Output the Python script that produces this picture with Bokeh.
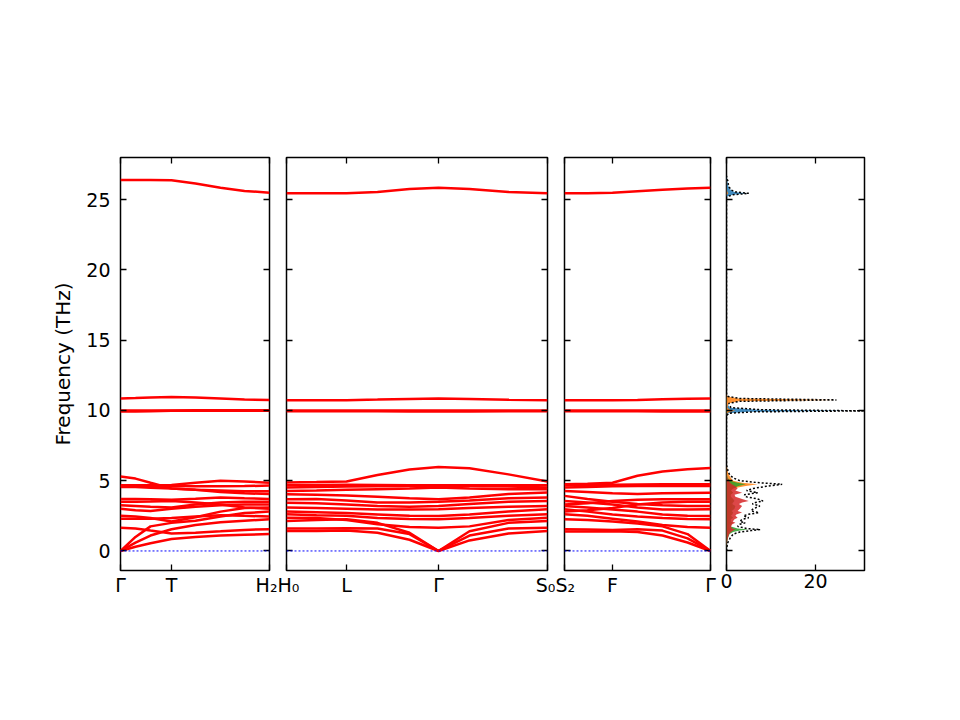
from bokeh.plotting import figure
from bokeh.layouts import row
from bokeh.models import LinearAxis, FixedTicker, Span, Range1d
from bokeh.embed import file_html
from bokeh.resources import INLINE

# k-path distances of each segment and the labelled points
k1 = [0, 0.15, 0.3, 0.51, 0.75, 1.0, 1.24, 1.49]
k2 = [0, 0.3, 0.60, 0.91, 1.23, 1.52, 1.83, 2.22, 2.61]
k3 = [0, 0.23, 0.48, 0.73, 0.98, 1.23, 1.46]
ticks1 = [0, 0.51, 1.49]
ticks2 = [0, 0.60, 1.52, 2.61]
ticks3 = [0, 0.48, 1.46]
labels1 = ["Γ", "T", "H₂"]
labels2 = ["H₀", "L", "Γ", "S₀"]
labels3 = ["S₂", "F", "Γ"]

# bands (THz), Γ-T-H2
bands1 = [
    [0, 0.3, 0.55, 0.85, 1.0, 1.1, 1.15, 1.2],
    [0, 0.6, 1.1, 1.55, 1.85, 2.05, 2.15, 2.25],
    [0, 1.0, 1.75, 2.0, 2.15, 2.45, 2.7, 2.8],
    [1.66, 1.6, 1.45, 1.25, 1.3, 1.4, 1.5, 1.55],
    [2.3, 2.3, 2.3, 2.35, 2.45, 2.55, 2.5, 2.45],
    [2.5, 2.45, 2.35, 2.1, 2.4, 2.8, 3.05, 3.1],
    [3.0, 2.9, 2.85, 3.0, 3.15, 3.25, 3.3, 3.3],
    [3.25, 3.2, 3.15, 3.1, 3.3, 3.45, 3.5, 3.5],
    [3.5, 3.5, 3.52, 3.55, 3.45, 3.3, 3.1, 3.0],
    [3.7, 3.7, 3.68, 3.65, 3.72, 3.8, 3.75, 3.7],
    [4.55, 4.55, 4.5, 4.45, 4.35, 4.2, 4.1, 4.05],
    [4.63, 4.63, 4.63, 4.62, 4.6, 4.6, 4.62, 4.65],
    [4.68, 4.68, 4.68, 4.7, 4.85, 5.0, 4.95, 4.85],
    [5.3, 5.15, 4.85, 4.45, 4.35, 4.3, 4.25, 4.25],
    [9.92, 9.93, 9.95, 9.97, 9.98, 9.98, 9.97, 9.97],
    [10.0, 10.0, 10.0, 10.0, 10.01, 10.02, 10.02, 10.02],
    [10.85, 10.88, 10.92, 10.95, 10.92, 10.85, 10.78, 10.75],
    [26.4, 26.4, 26.4, 26.38, 26.15, 25.85, 25.62, 25.5],
]

# H0-L-Γ-S0
bands2 = [
    [1.42, 1.42, 1.45, 1.3, 0.8, 0, 0.75, 1.25, 1.42],
    [1.59, 1.6, 1.62, 1.6, 1.2, 0, 1.1, 1.6, 1.66],
    [2.14, 2.2, 2.25, 2.0, 1.3, 0, 1.4, 2.0, 2.14],
    [2.37, 2.35, 2.2, 1.9, 1.7, 1.66, 1.75, 2.2, 2.37],
    [2.61, 2.55, 2.5, 2.35, 2.28, 2.26, 2.35, 2.5, 2.61],
    [2.8, 2.75, 2.7, 2.6, 2.5, 2.49, 2.6, 2.8, 2.97],
    [3.09, 3.05, 3.0, 2.95, 2.95, 2.97, 3.05, 3.15, 3.2],
    [3.44, 3.4, 3.3, 3.2, 3.15, 3.2, 3.35, 3.5, 3.56],
    [3.68, 3.7, 3.6, 3.45, 3.45, 3.5, 3.6, 3.75, 3.8],
    [4.04, 4.0, 3.95, 3.85, 3.75, 3.68, 3.8, 4.05, 4.16],
    [4.27, 4.3, 4.35, 4.4, 4.45, 4.51, 4.45, 4.4, 4.39],
    [4.51, 4.55, 4.58, 4.6, 4.62, 4.63, 4.62, 4.58, 4.51],
    [4.68, 4.7, 4.72, 4.7, 4.68, 4.68, 4.68, 4.68, 4.68],
    [4.87, 4.9, 4.95, 5.4, 5.8, 5.97, 5.88, 5.45, 4.95],
    [9.95, 9.95, 9.95, 9.94, 9.93, 9.92, 9.93, 9.95, 9.95],
    [10.0, 10.0, 10.0, 10.0, 10.0, 10.0, 10.0, 10.0, 10.0],
    [10.72, 10.72, 10.73, 10.77, 10.82, 10.85, 10.82, 10.76, 10.72],
    [25.45, 25.45, 25.46, 25.55, 25.75, 25.85, 25.75, 25.55, 25.45],
]

# S2-F-Γ
bands3 = [
    [1.38, 1.38, 1.4, 1.35, 1.1, 0.6, 0],
    [1.54, 1.52, 1.5, 1.55, 1.45, 0.9, 0],
    [2.26, 2.2, 2.1, 1.95, 1.75, 1.2, 0],
    [2.61, 2.5, 2.3, 2.1, 1.85, 1.7, 1.66],
    [2.97, 2.8, 2.6, 2.45, 2.35, 2.28, 2.26],
    [3.2, 3.1, 2.95, 2.8, 2.6, 2.5, 2.49],
    [3.56, 3.45, 3.3, 3.1, 2.95, 2.95, 2.97],
    [3.92, 3.7, 3.5, 3.35, 3.25, 3.2, 3.2],
    [2.8, 2.9, 3.05, 3.3, 3.45, 3.5, 3.5],
    [3.3, 3.4, 3.55, 3.65, 3.68, 3.68, 3.68],
    [4.27, 4.2, 4.1, 4.05, 4.1, 4.13, 4.15],
    [4.51, 4.55, 4.6, 4.62, 4.63, 4.63, 4.63],
    [4.68, 4.7, 4.72, 4.73, 4.74, 4.75, 4.75],
    [4.75, 4.78, 4.85, 5.35, 5.65, 5.82, 5.9],
    [9.95, 9.95, 9.95, 9.94, 9.93, 9.92, 9.92],
    [10.0, 10.0, 10.0, 10.0, 10.0, 10.0, 10.0],
    [10.72, 10.72, 10.72, 10.75, 10.79, 10.83, 10.85],
    [25.45, 25.46, 25.5, 25.6, 25.7, 25.8, 25.85],
]

# density of states
dos_freq = [0.0, 0.3, 0.6, 0.9, 1.2, 1.35, 1.45, 1.52, 1.6, 1.75,
            1.9, 2.0, 2.1, 2.25, 2.37, 2.5, 2.6, 2.73, 2.85, 3.0,
            3.2, 3.35, 3.45, 3.56, 3.7, 3.85, 4.0, 4.15, 4.3, 4.45,
            4.6, 4.75, 4.85, 5.0, 5.2, 5.4, 5.6, 5.9, 6.1,
            9.6, 9.8, 9.9, 9.97, 10.05, 10.2, 10.5, 10.65, 10.75, 10.85, 11.0, 11.2,
            25.2, 25.35, 25.45, 25.55, 25.7, 25.9, 26.1, 26.35, 26.5, 26.7]
dos_total = [0, 0.1, 0.3, 0.8, 1.5, 3.0, 5.5, 7.6, 4.5, 2.5,
             3.0, 4.2, 3.0, 3.5, 5.0, 3.8, 4.8, 7.3, 5.5, 6.0,
             7.5, 5.8, 6.5, 8.2, 7.0, 4.5, 4.0, 7.0, 4.5, 6.0,
             9.0, 12.5, 7.5, 3.0, 1.5, 0.8, 0.4, 0.2, 0,
             0, 0.5, 6.0, 31.0, 8.0, 1.0, 0.5, 3.0, 24.7, 3.0, 0.3, 0,
             0, 1.5, 5.0, 2.0, 1.0, 0.6, 0.4, 0.3, 0.1, 0]
dos_c0 = [0, 0.05, 0.1, 0.2, 0.3, 0.4, 0.5, 0.6, 0.4, 0.3,
          0.3, 0.4, 0.3, 0.3, 0.4, 0.3, 0.4, 0.5, 0.4, 0.4,
          0.5, 0.4, 0.4, 0.5, 0.4, 0.3, 0.3, 0.4, 0.3, 0.4,
          0.5, 0.6, 0.4, 0.2, 0.1, 0.1, 0.05, 0, 0,
          0, 0.3, 5.0, 28.0, 7.0, 0.8, 0.1, 0.2, 0.5, 0.2, 0, 0,
          0, 1.4, 4.8, 1.8, 0.9, 0.5, 0.3, 0.2, 0.1, 0]
dos_c1 = [0, 0.03, 0.1, 0.2, 0.3, 0.5, 0.8, 1.0, 0.7, 0.5,
          0.6, 0.8, 0.6, 0.7, 1.0, 0.8, 0.9, 1.2, 1.0, 1.1,
          1.3, 1.0, 1.2, 1.5, 1.3, 0.9, 0.9, 1.5, 1.0, 1.5,
          4.0, 7.0, 3.5, 1.5, 1.0, 0.6, 0.3, 0.15, 0,
          0, 0.1, 0.8, 2.0, 0.8, 0.2, 0.4, 2.8, 24.5, 2.8, 0.2, 0,
          0, 0.1, 0.4, 0.2, 0.1, 0.05, 0.05, 0.05, 0, 0]
dos_c2 = [0, 0.03, 0.1, 0.3, 0.7, 1.5, 3.0, 5.0, 2.5, 1.0,
          1.0, 1.5, 1.0, 1.0, 1.5, 1.0, 1.3, 1.5, 1.2, 1.8,
          2.0, 1.3, 1.5, 1.8, 1.5, 1.0, 0.9, 1.5, 1.0, 1.5,
          2.5, 4.3, 2.5, 0.8, 0.3, 0.1, 0.05, 0.02, 0,
          0, 0, 0.1, 0.3, 0.1, 0, 0, 0, 0.1, 0, 0, 0,
          0, 0, 0, 0, 0, 0, 0, 0, 0, 0]
dos_c3 = [0, 0.02, 0.1, 0.3, 0.6, 1.0, 1.5, 2.0, 1.3, 1.0,
          1.3, 2.0, 1.4, 1.8, 2.5, 2.0, 2.2, 3.5, 2.5, 3.0,
          3.5, 2.8, 3.5, 5.0, 3.5, 2.0, 1.8, 3.5, 2.0, 2.5,
          2.0, 1.2, 0.8, 0.5, 0.2, 0.1, 0.05, 0.02, 0,
          0, 0, 0, 0, 0, 0, 0, 0, 0, 0, 0, 0,
          0, 0, 0, 0, 0, 0, 0, 0, 0, 0]

yticks = [0, 5, 10, 15, 20, 25]
dos_ticks = [0, 20]

FONT = "DejaVu Sans"
FS = "19px"
FRAME_H = 413


def axis(ticks, labels=None, standoff=0):
    if labels is None:
        labels = ["" for t in ticks]
    ax = LinearAxis(ticker=FixedTicker(ticks=ticks),
                    major_label_overrides=dict(zip(ticks, labels)))
    ax.axis_line_color = None
    ax.major_tick_in = 6
    ax.major_tick_out = 0
    ax.major_tick_line_width = 1.3
    ax.major_tick_line_color = "black"
    ax.minor_tick_line_color = None
    ax.major_label_text_font = FONT
    ax.major_label_text_font_size = FS
    ax.major_label_text_color = "black"
    ax.major_label_standoff = standoff
    return ax


def panel(xmax, fw, left, right):
    p = figure(frame_width=fw, frame_height=FRAME_H,
               x_range=Range1d(0, xmax), y_range=Range1d(-1.39, 28.0),
               x_axis_location=None, y_axis_location=None,
               min_border_left=left, min_border_right=right,
               min_border_top=157, min_border_bottom=130,
               output_backend="svg", toolbar_location=None)
    p.grid.visible = False
    p.outline_line_color = "black"
    p.outline_line_width = 1.5
    p.background_fill_color = "white"
    return p


def band_panel(k, bands, ticks, labels, fw, left, right, ylabels=False):
    p = panel(k[-1], fw, left, right)
    p.add_layout(Span(location=0, dimension="width", line_color="blue",
                      line_dash="2 2", line_width=1))
    p.multi_line(xs=[k] * len(bands), ys=bands, line_color="red", line_width=2.5)
    p.add_layout(axis(ticks, labels, 3), "below")
    p.add_layout(axis(ticks), "above")
    if ylabels:
        ax = axis(yticks, [str(t) for t in yticks], 10)
        ax.axis_label = "Frequency (THz)"
        ax.axis_label_text_font = FONT
        ax.axis_label_text_font_size = "20px"
        ax.axis_label_text_font_style = "normal"
        ax.axis_label_text_color = "black"
        ax.axis_label_standoff = 8
        p.add_layout(ax, "left")
    else:
        p.add_layout(axis(yticks), "left")
    p.add_layout(axis(yticks), "right")
    return p


p1 = band_panel(k1, bands1, ticks1, labels1, 149, 120, 8, ylabels=True)
p2 = band_panel(k2, bands2, ticks2, labels2, 261, 9, 8)
p3 = band_panel(k3, bands3, ticks3, labels3, 146, 9, 8)

p4 = panel(31.0, 138, 8, 40)
colors = ["#1f77b4", "#ff7f0e", "#2ca02c", "#d62728"]
for vals, c in zip([dos_c0, dos_c1, dos_c2, dos_c3], colors):
    p4.harea(y=dos_freq, x1=[0] * len(dos_freq), x2=vals,
             fill_color=c, fill_alpha=0.85)
p4.line(dos_total, dos_freq, line_color="black", line_dash="2 2", line_width=1.5)
p4.add_layout(axis(dos_ticks, [str(t) for t in dos_ticks], 3), "below")
p4.add_layout(axis(dos_ticks), "above")
p4.add_layout(axis(yticks), "left")
p4.add_layout(axis(yticks), "right")

layout = row(p1, p2, p3, p4)

open("out.html", "w").write(file_html(layout, INLINE))
